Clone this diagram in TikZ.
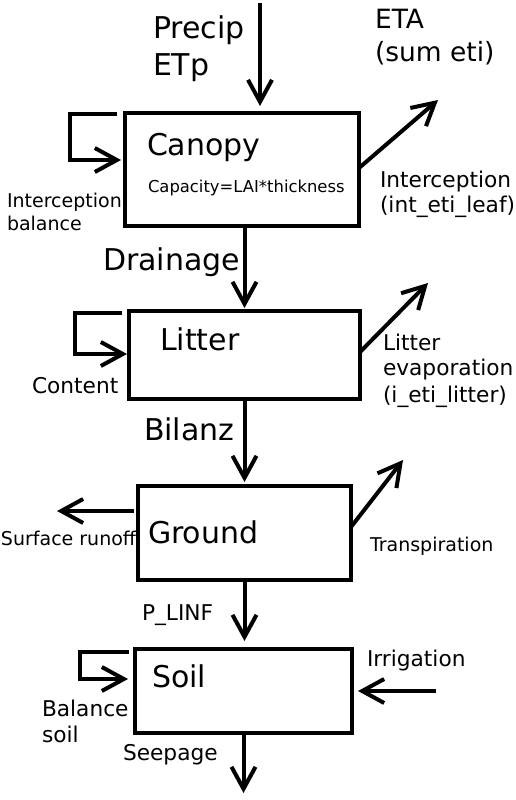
\documentclass[tikz,border=0pt]{standalone}
\usepackage{fontspec}
\setmainfont{DejaVu Sans}
\usetikzlibrary{arrows.meta}
\begin{document}
\begin{tikzpicture}[x=1pt,y=-1pt,
  box/.style={draw,line width=4.2pt,minimum width=#1,inner sep=0pt,outer sep=0pt},
  arr/.style={draw,line width=4pt,-{Straight Barb[length=22pt,width=24pt,line width=4pt]}},
  lbl/.style={anchor=base west,inner sep=0pt,outer sep=0pt},
  big/.style={lbl,font=\fontsize{30}{35}\selectfont},
  etatxt/.style={lbl,font=\fontsize{26.5}{31}\selectfont},
  mid/.style={lbl,font=\fontsize{21.7}{26}\selectfont},
  sml/.style={lbl,font=\fontsize{19}{23}\selectfont},
  captxt/.style={lbl,font=\fontsize{16.4}{19}\selectfont}]
\useasboundingbox (0,0) rectangle (515,800);
% boxes
\node[box=234pt,minimum height=113pt] (canopy) at (242,169.5) {};
\node[box=231pt,minimum height=88pt] (litter) at (244.5,355) {};
\node[box=213pt,minimum height=94pt] (ground) at (244.5,533) {};
\node[box=217pt,minimum height=84pt] (soil) at (243.5,691) {};
% texts in boxes
\node[big] (tcanopy) at (147,155) {Canopy};
\node[captxt] (tcap) at (148,192) {Capacity=LAI*thickness};
\node[big] (tlitter) at (160,350) {Litter};
\node[big] (tground) at (148,543) {Ground};
\node[big] (tsoil) at (152,687) {Soil};
% labels
\node[big] (tprecip) at (153,39) {Precip};
\node[big] (tetp) at (153,75) {ETp};
\node[etatxt] (teta) at (375,29) {ETA};
\node[etatxt] (tsum) at (375,62) {(sum eti)};
\node[mid] (tint1) at (380,187) {Interception};
\node[mid] (tint2) at (380,212) {(int\_eti\_leaf)};
\node[sml] (tib1) at (7,207) {Interception};
\node[sml] (tib2) at (7,230) {balance};
\node[big] (tdrain) at (103,270) {Drainage};
\node[mid] (tcontent) at (32,393) {Content};
\node[mid] (tle1) at (383,350) {Litter};
\node[mid] (tle2) at (383,375) {evaporation};
\node[mid] (tle3) at (383,402) {(i\_eti\_litter)};
\node[big] (tbilanz) at (144,440) {Bilanz};
\node[sml] (trunoff) at (1,545) {Surface runoff};
\node[sml] (ttransp) at (370,551) {Transpiration};
\node[mid] (tplinf) at (142,620) {P\_LINF};
\node[mid] (tirr) at (367,666) {Irrigation};
\node[mid] (tbs1) at (42,716) {Balance};
\node[mid] (tbs2) at (42,742) {soil};
\node[mid] (tseep) at (123,760) {Seepage};
% free ends
\coordinate (pin) at (260,3);
\coordinate (etaend) at (438,100);
\coordinate (levend) at (428,283);
\coordinate (trend) at (403,460);
\coordinate (roend) at (57,511);
\coordinate (irrstart) at (436,691);
\coordinate (seepend) at (243.5,793);
% connectors
\draw[arr,shorten >=7pt] (pin) -- (pin |- canopy.north);
\draw[arr] ([yshift=1.5pt]canopy.east) -- (etaend);
\draw[arr,shorten >=3pt] (canopy.south -| litter.north) -- (litter.north);
\draw[arr] ([yshift=3pt]litter.east) -- (levend);
\draw[arr,shorten >=4pt] (litter.south) -- (ground.north);
\draw[arr] ([yshift=6pt]ground.east) -- (trend);
\draw[arr] ([xshift=-4pt,yshift=22pt]ground.west) -- (roend);
\draw[arr,shorten >=8pt] (ground.south) -- (ground.south |- soil.north);
\draw[arr,shorten >=6pt] (irrstart) -- (soil.east);
\draw[arr] (soil.south) -- (seepend);
% loops
\draw[arr,shorten >=4pt] ([xshift=-8pt,yshift=-1pt]canopy.north west) -- ++(-47,0) |- ([yshift=9.5pt]canopy.west);
\draw[arr,shorten >=2pt] ([xshift=-7pt,yshift=-2pt]litter.north west) -- ++(-47,0) |- ([yshift=1pt]litter.west);
\draw[arr,shorten >=7pt] ([xshift=-6pt,yshift=-3pt]soil.north west) -- ++(-49,0) |- ([yshift=12pt]soil.west);
\end{tikzpicture}
\end{document}
